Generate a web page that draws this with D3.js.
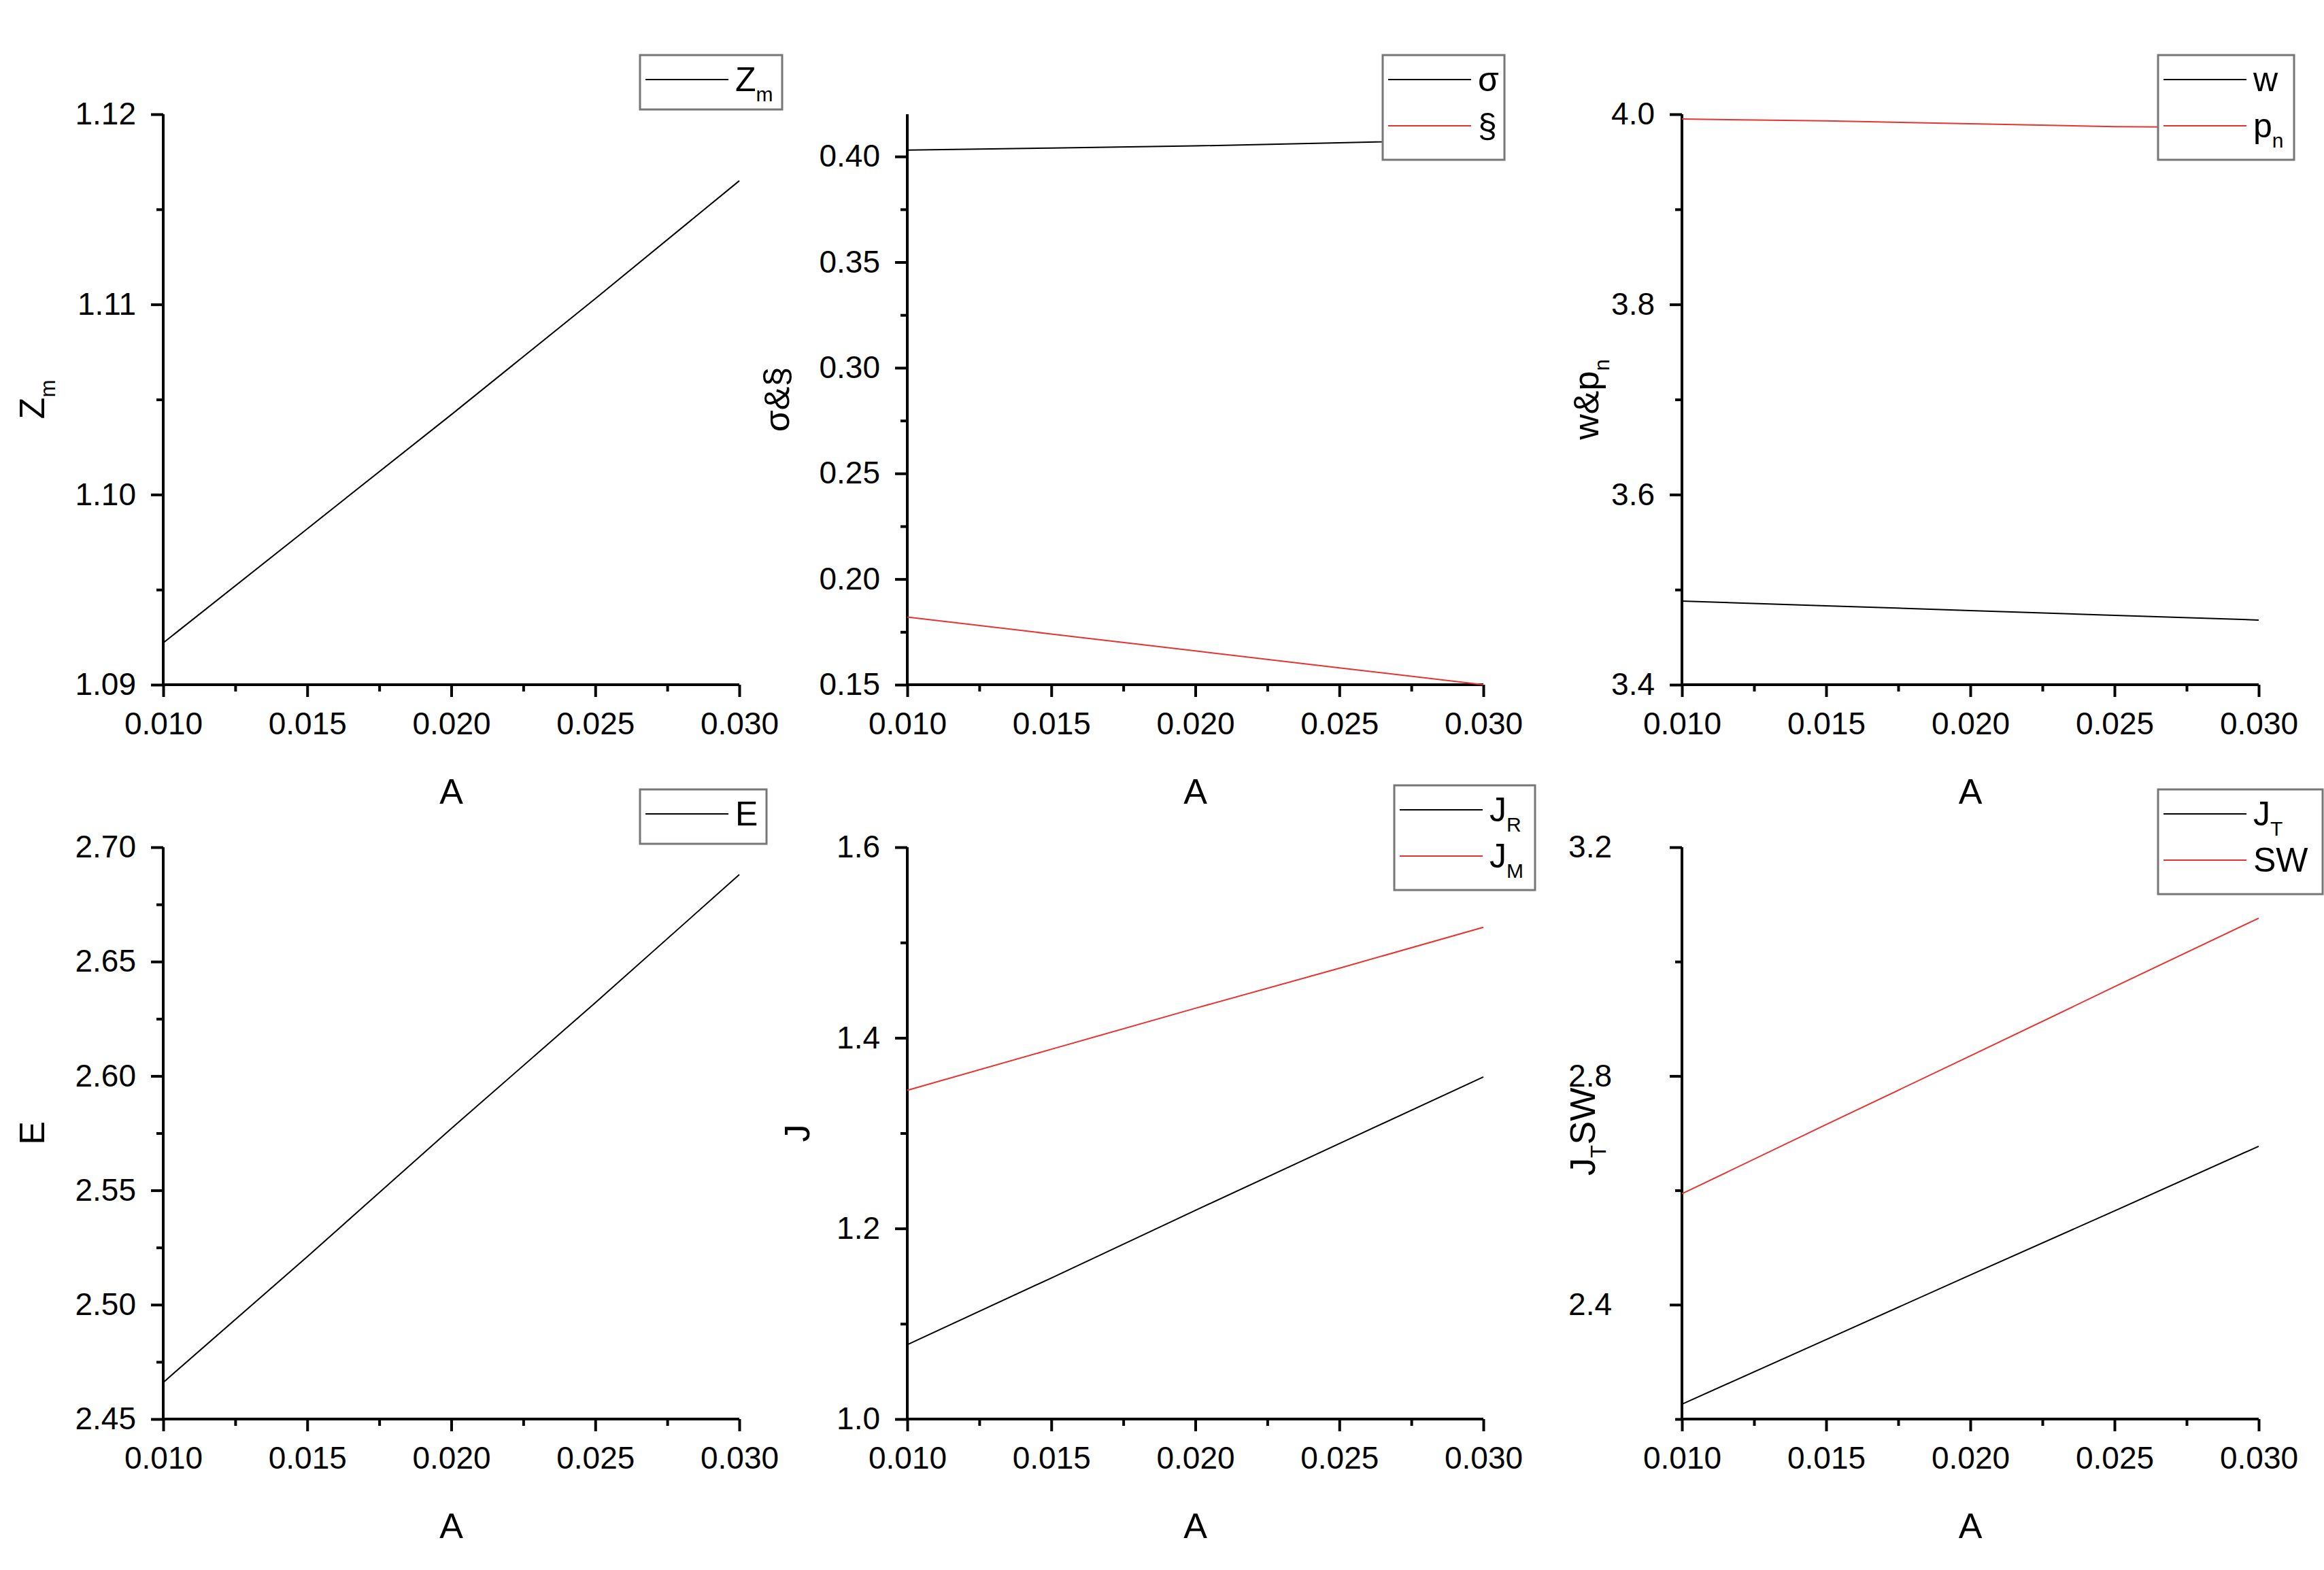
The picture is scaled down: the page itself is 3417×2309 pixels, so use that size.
<!DOCTYPE html>
<html>
<head>
<meta charset="utf-8">
<script src="https://cdn.jsdelivr.net/npm/d3@7"></script>
<style>
  body { margin: 0; background: #fff; }
  text { font-family: "Liberation Sans", Arial, sans-serif; fill: #000; }
</style>
</head>
<body>
<svg id="chart" width="3417" height="2309"></svg>
<script>
// Data (x = A)
const xs = [0.010, 0.015, 0.020, 0.025, 0.030];
const zm = [1.0922, 1.0982, 1.1042, 1.1103, 1.1165];
const sigma = [0.403, 0.404, 0.405, 0.4065, 0.408];
const sect = [0.182, 0.174, 0.166, 0.158, 0.150];
const w = [3.488, 3.483, 3.478, 3.473, 3.468];
const pn = [3.995, 3.993, 3.990, 3.987, 3.986];
const e = [2.466, 2.521, 2.577, 2.632, 2.688];
const jr = [1.078, 1.148, 1.219, 1.289, 1.359];
const jm = [1.345, 1.388, 1.431, 1.473, 1.516];
const jt = [2.226, 2.339, 2.452, 2.564, 2.677];
const sw = [2.594, 2.715, 2.835, 2.956, 3.076];

const xTicks = [0.010, 0.015, 0.020, 0.025, 0.030];

const svg = d3.select('#chart');
const cols = [[240, 1087], [1334, 2181], [2473, 3321]];
const rows = [[168, 1007], [1246, 2087]];

// Panel setup
const panels = [
  { c: 0, r: 0, dom: [1.09, 1.12], major: 0.01, fmt: '.2f', series: [{ v: zm, col: '#000', lab: ['Z', 'm'] }],
    legend: [941, 81, 209], ylab: { x: 65, parts: [['Z', 'm']] } },
  { c: 1, r: 0, dom: [0.15, 0.42], major: 0.05, fmt: '.2f', series: [{ v: sigma, col: '#000', lab: ['σ'] }, { v: sect, col: '#e8322f', lab: ['§'] }],
    legend: [2033, 81, 179], ylab: { x: 1160, parts: [['σ&§']] } },
  { c: 2, r: 0, dom: [3.4, 4.0], major: 0.2, fmt: '.1f', series: [{ v: w, col: '#000', lab: ['w'] }, { v: pn, col: '#e8322f', lab: ['p', 'n'] }],
    legend: [3173, 81, 200], ylab: { x: 2350, parts: [['w&p', 'n']] } },
  { c: 0, r: 1, dom: [2.45, 2.70], major: 0.05, fmt: '.2f', series: [{ v: e, col: '#000', lab: ['E'] }],
    legend: [941, 1161, 186], ylab: { x: 65, parts: [['E']] } },
  { c: 1, r: 1, dom: [1.0, 1.6], major: 0.2, fmt: '.1f', series: [{ v: jr, col: '#000', lab: ['J', 'R'] }, { v: jm, col: '#e8322f', lab: ['J', 'M'] }],
    legend: [2050, 1155, 207], ylab: { x: 1190, parts: [['J']] } },
  { c: 2, r: 1, dom: [2.2, 3.2], major: 0.4, fmt: '.1f', tickStart: 2.4, pad: 85, series: [{ v: jt, col: '#000', lab: ['J', 'T'] }, { v: sw, col: '#e8322f', lab: ['SW'] }],
    legend: [3173, 1161, 242], ylab: { x: 2345, parts: [['J', 'T'], ['SW']] } }
];

function addLabel(t, parts, size) {
  parts.forEach(p => {
    t.append('tspan').text(p[0]);
    if (p[1]) t.append('tspan').attr('font-size', size * 0.6).attr('dy', size * 0.3).text(p[1]);
  });
}

panels.forEach(p => {
  const [x0, x1] = cols[p.c];
  const [y0, y1] = rows[p.r];
  const x = d3.scaleLinear().domain([0.010, 0.030]).range([x0, x1]);
  const y = d3.scaleLinear().domain(p.dom).range([y1, y0]);
  const g = svg.append('g');

  // minor ticks
  const minorX = d3.range(0.0125, 0.030, 0.005);
  const start = p.tickStart !== undefined ? p.tickStart : p.dom[0];
  const majorY = d3.range(start, p.dom[1] + 1e-9, p.major);
  const minorY = d3.range(start - p.major / 2, p.dom[1], p.major).filter(v => v >= p.dom[0] - 1e-9);

  const xa = g.append('g').attr('transform', `translate(0,${y1})`)
    .call(d3.axisBottom(x).tickValues(xTicks).tickFormat(d3.format('.3f')).tickSize(18).tickPadding(22));
  xa.selectAll('text').attr('font-size', 46);
  g.append('g').attr('transform', `translate(0,${y1})`)
    .call(d3.axisBottom(x).tickValues(minorX).tickFormat('').tickSize(10).tickSizeOuter(0));

  const ya = g.append('g').attr('transform', `translate(${x0},0)`)
    .call(d3.axisLeft(y).tickValues(majorY).tickFormat(d3.format(p.fmt)).tickSize(18).tickPadding(p.pad || 22).tickSizeOuter(0));
  ya.selectAll('text').attr('font-size', 46);
  g.append('g').attr('transform', `translate(${x0},0)`)
    .call(d3.axisLeft(y).tickValues(minorY).tickFormat('').tickSize(10).tickSizeOuter(0));
  g.selectAll('.domain, .tick line').attr('stroke', '#000').attr('stroke-width', 4);
  g.selectAll('.domain').attr('d', null);
  g.append('line').attr('x1', x0).attr('x2', x0).attr('y1', y0).attr('y2', y1).attr('stroke', '#000').attr('stroke-width', 4);
  g.append('line').attr('x1', x0).attr('x2', x1).attr('y1', y1).attr('y2', y1).attr('stroke', '#000').attr('stroke-width', 4);

  // x title
  g.append('text').attr('x', (x0 + x1) / 2).attr('y', y1 + 175).attr('text-anchor', 'middle').attr('font-size', 52).text('A');

  // y title
  if (p.ylab.parts.length === 2) {
    const t1 = g.append('text').attr('transform', `translate(${p.ylab.x},${(y0 + y1) / 2 + 40}) rotate(-90)`)
      .attr('text-anchor', 'middle').attr('font-size', 52);
    addLabel(t1, [p.ylab.parts[0]], 52);
    const t2 = g.append('text').attr('transform', `translate(${p.ylab.x},${(y0 + y1) / 2 - 25}) rotate(-90)`)
      .attr('text-anchor', 'middle').attr('font-size', 52);
    addLabel(t2, [p.ylab.parts[1]], 52);
  } else {
    const t = g.append('text').attr('transform', `translate(${p.ylab.x},${(y0 + y1) / 2}) rotate(-90)`)
      .attr('text-anchor', 'middle').attr('font-size', 52);
    addLabel(t, p.ylab.parts, 52);
  }

  // lines
  const line = d3.line().x((d, i) => x(xs[i])).y(d => y(d));
  p.series.forEach(s => {
    g.append('path').attr('d', line(s.v)).attr('fill', 'none').attr('stroke', s.col).attr('stroke-width', 2);
  });

  // legend
  const [lx, ly, lw] = p.legend;
  const rh = 68;
  const lh = 28 + p.series.length * rh - (p.series.length > 1 ? 10 : 0);
  g.append('rect').attr('x', lx).attr('y', ly).attr('width', lw).attr('height', p.series.length > 1 ? lh : 80)
    .attr('fill', '#fff').attr('stroke', '#777').attr('stroke-width', 3);
  p.series.forEach((s, i) => {
    const cy = ly + 36 + i * rh;
    g.append('line').attr('x1', lx + 8).attr('x2', lx + 130).attr('y1', cy).attr('y2', cy).attr('stroke', s.col).attr('stroke-width', 2);
    const t = g.append('text').attr('x', lx + 140).attr('y', cy + 17).attr('font-size', 50);
    addLabel(t, [s.lab], 50);
  });
});
</script>
</body>
</html>
